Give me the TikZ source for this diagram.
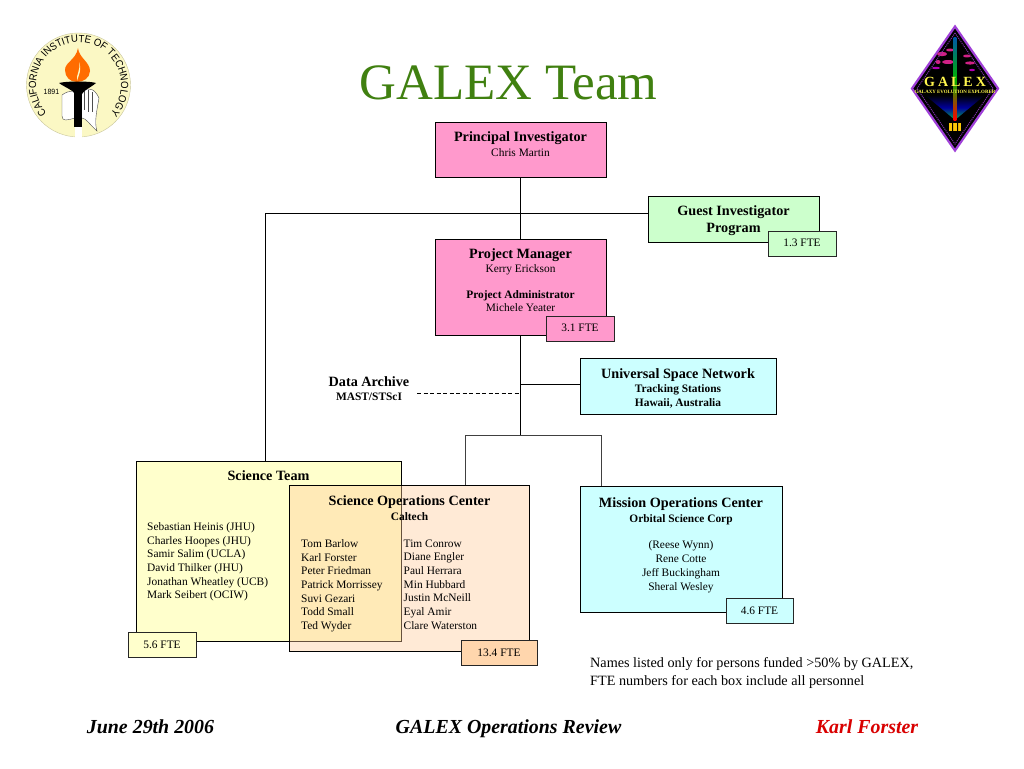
\documentclass[tikz,border=0pt]{standalone}
\usepackage{fontspec}
\setmainfont{Liberation Serif}
\newfontfamily\sealfont[FakeStretch=0.92]{Liberation Sans}
\usetikzlibrary{decorations.text,shapes.geometric}
\definecolor{pinkbox}{HTML}{FF99CC}
\definecolor{greenbox}{HTML}{CCFFCC}
\definecolor{cyanbox}{HTML}{CCFFFF}
\definecolor{yellowbox}{HTML}{FFFFCC}
\definecolor{peachbox}{HTML}{FFCC99}
\definecolor{titlegreen}{HTML}{408010}
\definecolor{sealpale}{HTML}{FBF8C4}
\definecolor{galexviolet}{HTML}{A040D8}
\newcommand{\fs}[1]{\fontsize{#1}{#1}\selectfont}
\tikzset{
  x=1pt,y=-1pt,
  box/.style={draw=black,line width=1pt,inner sep=0pt},
  tag/.style={draw=black!85,line width=0.9pt,inner sep=0pt},
  link/.style={draw=black,line width=0.8pt},
  txt/.style={inner sep=0pt,align=center,text=black},
  head/.style={txt,font=\bfseries\fontsize{14.2}{16.5}\selectfont},
  sub/.style={txt,font=\fontsize{11.4}{14}\selectfont},
  subb/.style={txt,font=\bfseries\fontsize{11.4}{14}\selectfont},
  names/.style={txt,align=left,anchor=north west,font=\fontsize{11.4}{13.65}\selectfont},
  fte/.style={txt,font=\fontsize{11.4}{13}\selectfont},
  foot/.style={txt,font=\bfseries\itshape\fontsize{19.9}{22}\selectfont},
}
\begin{document}
\begin{tikzpicture}
\useasboundingbox (0,0) rectangle (1024,768);
\fill[white] (0,0) rectangle (1024,768);

% Caltech seal
\node[circle,draw=sealpale!80!black,line width=0.4pt,fill=sealpale,minimum size=104,inner sep=0pt] (seal) at (78.5,85) {};
\begin{scope}[x=1pt,y=1pt]
\path[decorate,decoration={text along path,text align=center,
  text={|\sealfont\fontsize{10.4}{11}\selectfont|CALIFORNIA INSTITUTE OF TECHNOLOGY}}]
  (56,-121) arc[start angle=238,end angle=-58,radius=42.5pt];
\end{scope}
\node[txt,font=\sealfont\fs{7.6}] (year) at (51.5,92) {1891};
\fill[orange!85!red] (78,48) .. controls (79,58) and (90,62) .. (90,71) .. controls (90,78) and (83,82) .. (77,82)
  .. controls (70,82) and (65,77) .. (65,70) .. controls (65,62) and (76,60) .. (78,48) -- cycle;
\fill[sealpale] (79,62) .. controls (81,70) and (76,74) .. (77,81) .. controls (79,74) and (82,70) .. (79,62) -- cycle;
\fill[white] (75,125) rectangle (82,139);
\draw[black!70,line width=0.4pt,fill=white] (62,95) .. controls (70,89) and (76,92) .. (82,90)
  .. controls (90,88) and (94,88) .. (99,98) .. controls (97,110) and (94,122) .. (97,131)
  .. controls (90,125) and (86,118) .. (82,118) -- (75,118) .. controls (68,120) and (62,122) .. (62,116) -- cycle;
\draw[black!70,line width=0.4pt] (84,91) -- (84,110) (88,90) -- (88,112) (92,92) -- (92,112);
\fill[black] (74,92) rectangle (82,127);
\fill[black] (59,83) .. controls (66,81) and (90,81) .. (96,83) .. controls (90,88) and (84,90) .. (82,94) -- (75,94) .. controls (73,90) and (66,88) .. (59,83) -- cycle;

% GALEX patch
\node[diamond,draw=galexviolet,line width=2.2pt,fill=black,minimum width=87,minimum height=125,inner sep=0pt,aspect=0.7] (patch) at (955,88.5) {};
\begin{scope}
  \clip (955,28) -- (997,88.5) -- (955,149) -- (913,88.5) -- cycle;
  \shade[top color=black,bottom color=teal!60!green,middle color=blue!60!black] (955,120) -- (925,95) -- (985,95) -- cycle;
  \fill[magenta!70!violet] (942,54) ellipse (5 and 2.2) (950,50) ellipse (4 and 1.5) (948,62) ellipse (6 and 2) (967,56) ellipse (4 and 1.5) (970,63) ellipse (5 and 1.6) (938,62) ellipse (2.5 and 2);
  \fill[violet!60!magenta] (936,68) ellipse (4 and 1.2) (972,70) ellipse (3 and 1.2);
  \shade[top color=teal!70!blue,bottom color=red,middle color=green!70!black] (953.6,38) rectangle (956.4,120);
  \fill[yellow!60!orange] (949,123) rectangle (961,131);
  \fill[black] (952,123) rectangle (953,131) (957,123) rectangle (958,131);
  \draw[galexviolet!80!black,line width=1pt,dash pattern=on 1pt off 1pt] (955,33) -- (993,88.5) -- (955,144) -- (917,88.5) -- cycle;
\end{scope}
\node[txt,text=yellow!70!white,font=\bfseries\fs{14}] (patchname) at (955,81.5) {G\hspace{3pt}A\hspace{3pt}L\hspace{3pt}E\hspace{3pt}X};
\node[txt,text=yellow!70!white,font=\bfseries\fs{4.9}] (patchsub) at (955,92) {GALAXY EVOLUTION EXPLORER};

% Title
\node[txt,text=titlegreen,font=\fs{51}] (title) at (508.5,83) {GALEX Team};

% Connector junctions
\coordinate (jgi) at (520.5,213);
\coordinate (jst) at (265,213);
\coordinate (jusn) at (520.5,384);
\coordinate (jda) at (520.5,393);
\coordinate (jbar) at (520.5,435);
\coordinate (jsoc) at (465,435);
\coordinate (jmoc) at (601,435);
\coordinate (dashend) at (417,393);

% Boxes
\node[box,fill=pinkbox,minimum width=171,minimum height=55] (pi) at (520.5,149.5) {};
\node[box,fill=greenbox,minimum width=171,minimum height=46] (gi) at (733.5,219) {};
\node[box,fill=pinkbox,minimum width=171,minimum height=96] (pm) at (520.5,287) {};
\node[box,fill=cyanbox,minimum width=196,minimum height=56] (usn) at (678,386) {};
\node[box,fill=cyanbox,minimum width=202,minimum height=126] (moc) at (681,549) {};
\node[box,fill=yellowbox,minimum width=265,minimum height=180] (st) at (268.5,551) {};
\node[box,draw=none,fill=peachbox,fill opacity=0.4,minimum width=239,minimum height=165] (soc) at (409.5,568.5) {};

% Connectors
\draw[link] (pi.south) -- (pm.north);
\draw[link] (jgi) -- (gi.west |- jgi);
\draw[link] (jgi) -- (jst) -- (st.north -| jst);
\draw[link] (pm.south) -- (jbar);
\draw[link] (jusn) -- (usn.west |- jusn);
\draw[link,dashed,dash pattern=on 4pt off 2.5pt] (dashend) -- (jda);
\draw[link,black!75] (jsoc) -- (soc.north -| jsoc);
\draw[link,black!75] (jsoc) -- (jmoc) -- (moc.north -| jmoc);

% outline of Science Ops over the others
\draw[line width=1pt] (soc.north west) rectangle (soc.south east);

% FTE tags
\node[tag,fill=greenbox,minimum width=68,minimum height=25] (gifte) at (802,243.5) {};
\node[tag,fill=pinkbox,minimum width=68,minimum height=25] (pmfte) at (580,328.5) {};
\node[tag,fill=cyanbox,minimum width=67,minimum height=25] (mocfte) at (759.5,610.5) {};
\node[tag,fill=yellowbox,minimum width=68,minimum height=25] (stfte) at (162,644.5) {};
\node[tag,fill=peachbox!80!white,minimum width=76,minimum height=25] (socfte) at (499,652.5) {};

% Text
\node[head] (pit) at (520.5,138) {Principal Investigator};
\node[sub] (pin) at (520.5,152.5) {Chris Martin};
\node[head] (git) at (733.5,220.5) {Guest Investigator\\Program};
\node[fte] at ([yshift=1pt]gifte.center) {1.3 FTE};
\node[head] (pmt) at (520.5,255) {Project Manager};
\node[sub] (pmn) at (520.5,269.5) {Kerry Erickson};
\node[subb] (pat) at (520.5,296) {Project Administrator};
\node[sub] (pan) at (520.5,308) {Michele Yeater};
\node[fte] at ([yshift=1pt]pmfte.center) {3.1 FTE};
\node[head] (dat) at (369,381.5) {Data Archive};
\node[subb] (das) at (369,397) {MAST/STScI};
\node[head] (usnt) at (678,375) {Universal Space Network};
\node[subb] (usns) at (678,396) {Tracking Stations\\Hawaii, Australia};
\node[head] (stt) at (268.5,475.5) {Science Team};
\node[names] (stn) at (147,522.5) {Sebastian Heinis (JHU)\\Charles Hoopes (JHU)\\Samir Salim (UCLA)\\David Thilker (JHU)\\Jonathan Wheatley (UCB)\\Mark Seibert (OCIW)};
\node[fte] at (stfte) {5.6 FTE};
\node[head] (soct) at (409.5,502.5) {Science Operations Center};
\node[subb] (socs) at (409.5,517) {Caltech};
\node[names] (socn1) at (301,539.5) {Tom Barlow\\Karl Forster\\Peter Friedman\\Patrick Morrissey\\Suvi Gezari\\Todd Small\\Ted Wyder};
\node[names] (socn2) at (403.5,539.5) {Tim Conrow\\Diane Engler\\Paul Herrara\\Min Hubbard\\Justin McNeill\\Eyal Amir\\Clare Waterston};
\node[fte] at (socfte) {13.4 FTE};
\node[head] (moct) at (681,504.5) {Mission Operations Center};
\node[subb] (mocs) at (681,519.5) {Orbital Science Corp};
\node[sub,anchor=north] (mocn) at (681,540) {(Reese Wynn)\\Rene Cotte\\Jeff Buckingham\\Sheral Wesley};
\node[fte] at (mocfte) {4.6 FTE};
\node[txt,align=left,anchor=north west,font=\fontsize{14.2}{18}\selectfont] (note) at (590,657) {Names listed only for persons funded >50\% by GALEX,\\FTE numbers for each box include all personnel};

% Footer
\node[foot] (f1) at (150.5,727) {June 29th 2006};
\node[foot,anchor=base] (f2) at (508.5,733) {GALEX Operations Review};
\node[foot,text=red!85!black] (f3) at (867,727) {Karl Forster};
\end{tikzpicture}
\end{document}
